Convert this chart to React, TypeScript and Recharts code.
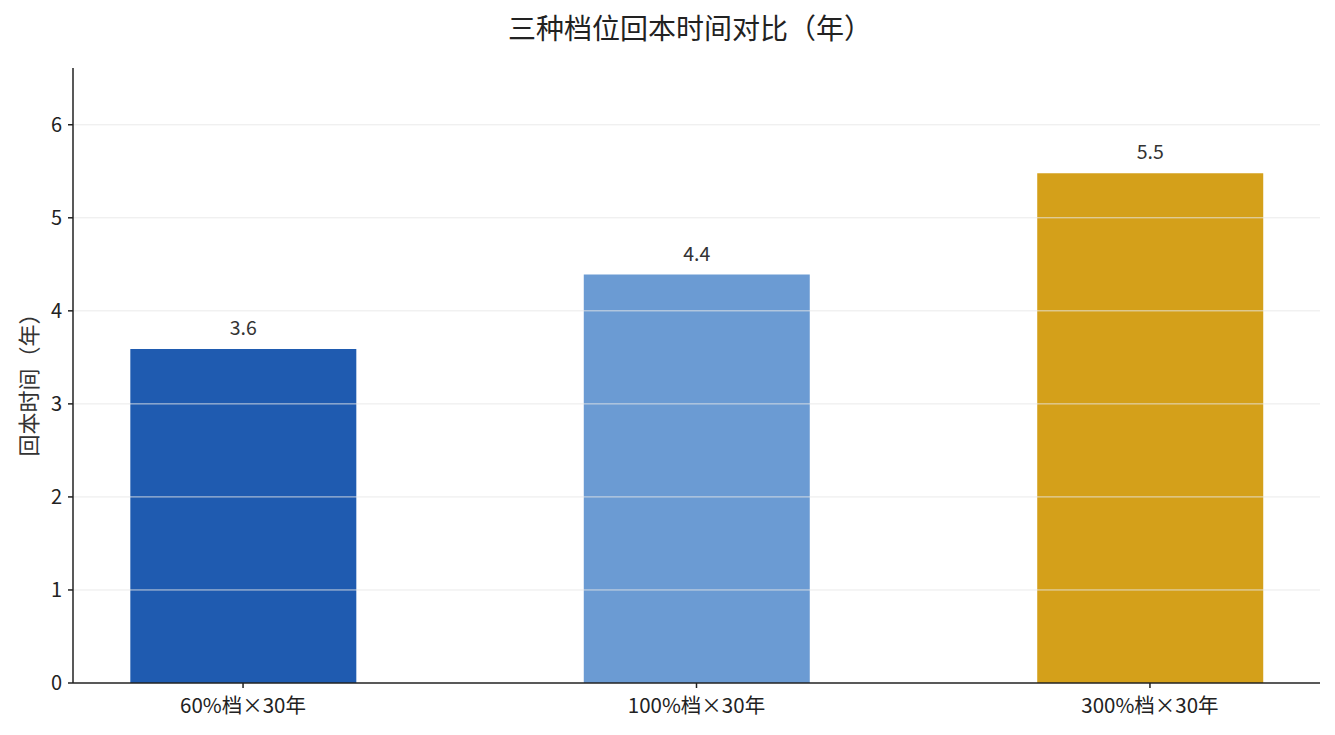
import { BarChart, Bar, Cell, XAxis, YAxis, ReferenceLine, LabelList } from 'recharts';

// Payback time per tier (years)
const categories = ['60%档×30年', '100%档×30年', '300%档×30年'];
const paybackYears = [3.59, 4.39, 5.48];
const barColors = ['#1f5bb0', '#6b9bd3', '#d4a01a'];
const yTicks = [0, 1, 2, 3, 4, 5, 6];
const gridTicks = [1, 2, 3, 4, 5, 6];

const data = categories.map((name, idx) => ({ idx, name, value: paybackYears[idx] }));

const FONT = '"Noto Sans CJK SC", "Noto Sans", sans-serif';

const YLabel = ({ viewBox }: any) => {
    const cx = 27;
    const cy = viewBox.y + viewBox.height / 2 + 4;
    return (
        <text
            x={cx}
            y={cy}
            transform={`rotate(-90, ${cx}, ${cy})`}
            textAnchor="middle"
            dominantBaseline="central"
            fill="#333"
            fontSize={22}
            fontFamily={FONT}
        >
            回本时间（年）
        </text>
    );
};

export default function App() {
    return (
        <div
            style={{
                position: 'absolute',
                left: 0,
                top: 0,
                width: 1335,
                height: 735,
                background: '#fff',
                fontFamily: FONT,
            }}
        >
            <div
                style={{
                    position: 'absolute',
                    top: 12,
                    left: 440,
                    width: 500,
                    textAlign: 'center',
                    fontSize: 28,
                    lineHeight: '30px',
                    color: '#222',
                }}
            >
                三种档位回本时间对比（年）
            </div>
            <BarChart
                width={1335}
                height={735}
                data={data}
                margin={{ top: 68, right: 15, bottom: 0, left: 0 }}
            >
                <XAxis
                    type="number"
                    dataKey="idx"
                    domain={[-0.375, 2.375]}
                    ticks={[0, 1, 2]}
                    interval={0}
                    tickFormatter={(v) => categories[v]}
                    height={52}
                    tickSize={5}
                    tickMargin={10}
                    axisLine={{ stroke: '#222', strokeWidth: 1.5 }}
                    tickLine={{ stroke: '#222', strokeWidth: 1.5 }}
                    tick={{ fill: '#222', fontSize: 20.5, fontFamily: FONT }}
                />
                <YAxis
                    type="number"
                    domain={[0, 6.61]}
                    ticks={yTicks}
                    width={73}
                    tickSize={5}
                    tickMargin={6}
                    axisLine={{ stroke: '#222', strokeWidth: 1.5 }}
                    tickLine={{ stroke: '#222', strokeWidth: 1.5 }}
                    tick={{ fill: '#222', fontSize: 20, fontFamily: FONT }}
                    label={<YLabel />}
                />
                <Bar dataKey="value" barSize={226} isAnimationActive={false}>
                    {data.map((d, i) => (
                        <Cell key={`cell-${i}`} fill={barColors[i]} />
                    ))}
                    <LabelList
                        dataKey="value"
                        position="top"
                        offset={14}
                        formatter={(v: any) => Number(v).toFixed(1)}
                        style={{ fill: '#333', fontSize: 19.5, fontFamily: FONT }}
                    />
                </Bar>
                {gridTicks.map((t) => (
                    <ReferenceLine key={t} y={t} stroke="#e6e6e6" strokeOpacity={0.85} strokeWidth={1} />
                ))}
            </BarChart>
        </div>
    );
}
